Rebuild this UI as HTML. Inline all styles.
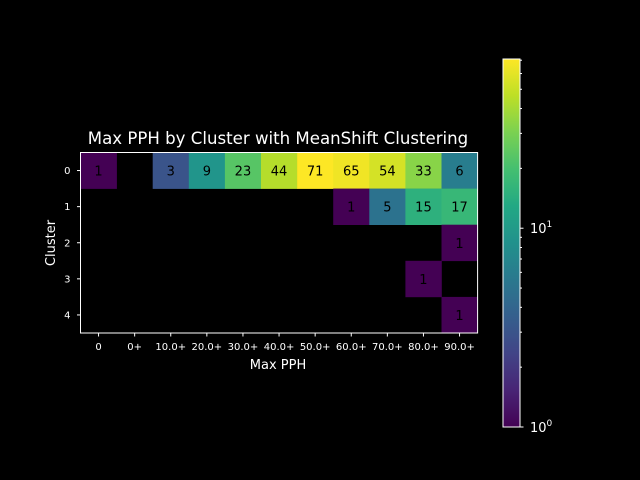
<!DOCTYPE html>
<html><head><meta charset="utf-8"><style>
html,body{margin:0;padding:0;background:#000;}
svg{display:block;font-family:"DejaVu Sans","Liberation Sans",sans-serif;}
</style></head><body>
<svg id="chart" width="640" height="480" viewBox="0 0 640 480">
<rect width="640" height="480" fill="#000"/>
<text x="278" y="144" fill="#fff" font-size="16.6" text-anchor="middle">Max PPH by Cluster with MeanShift Clustering</text>
<text x="278" y="369" fill="#fff" font-size="13" text-anchor="middle">Max PPH</text>
<text x="0" y="0" fill="#fff" font-size="13" text-anchor="middle" transform="translate(55,243) rotate(-90)">Cluster</text>
<g id="cells"></g><g id="axes"></g><g id="cbar"></g>
</svg>
<script>
const xCategories = ["0","0+","10.0+","20.0+","30.0+","40.0+","50.0+","60.0+","70.0+","80.0+","90.0+"];
const yCategories = ["0","1","2","3","4"];
const row0 = [1,null,3,9,23,44,71,65,54,33,6];
const row1 = [null,null,null,null,null,null,null,1,5,15,17];
const row2 = [null,null,null,null,null,null,null,null,null,null,1];
const row3 = [null,null,null,null,null,null,null,null,null,1,null];
const row4 = [null,null,null,null,null,null,null,null,null,null,1];
const rows = [row0,row1,row2,row3,row4];
const cbarMin = 1, cbarMax = 71;
const cbarMajorTicks = [1,10];
const cbarMinorTicks = [2,3,4,5,6,7,8,9,20,30,40,50,60,70];

const NS="http://www.w3.org/2000/svg";
const X0=80.5, Y0=152.5, CW=36.1, CH=36.1;
const xPos = i => X0 + i*CW;
const yPos = j => Y0 + j*CH;
const vir=["#440154","#482475","#414487","#355f8d","#2a788e","#21918c","#22a884","#44bf70","#7ad151","#bddf26","#fde725"];
function hex(h){return [1,3,5].map(i=>parseInt(h.substr(i,2),16));}
function cmap(t){t=Math.max(0,Math.min(1,t));const f=t*10,i=Math.min(9,Math.floor(f)),r=f-i;
 const a=hex(vir[i]),b=hex(vir[i+1]);return "rgb("+a.map((v,k)=>Math.round(v+(b[k]-v)*r)).join(",")+")";}
const norm = v => Math.log(v/cbarMin)/Math.log(cbarMax/cbarMin);
function mk(tag,attrs,parent,txt){const e=document.createElementNS(NS,tag);for(const k in attrs)e.setAttribute(k,attrs[k]);if(txt!==undefined)e.textContent=txt;parent.appendChild(e);return e;}

const cells=document.getElementById('cells');
rows.forEach((row,j)=>row.forEach((v,i)=>{
  if(v===null) return;
  const r=mk('rect',{x:xPos(i),y:yPos(j),width:CW+0.3,height:CH+0.3,fill:cmap(norm(v))},cells);
  
  
  const t=mk('text',{x:xPos(i)+CW/2,y:yPos(j)+CH/2+5,'font-size':13,'text-anchor':'middle',fill:'#000'},cells,String(v));
  
  
}));

const ax=document.getElementById('axes');
const frame=mk('rect',{x:X0,y:Y0,width:CW*11,height:CH*5,fill:'none',stroke:'#fff','stroke-width':1},ax);


xCategories.forEach((c,i)=>{
  const cx=xPos(i)+CW/2;
  mk('line',{x1:cx,x2:cx,y1:Y0+CH*5,y2:Y0+CH*5+3.5,stroke:'#fff'},ax);
  const t=mk('text',{x:cx,y:Y0+CH*5+17,'font-size':10,'text-anchor':'middle',fill:'#fff'},ax,c);
  
  
});
yCategories.forEach((c,j)=>{
  const cy=yPos(j)+CH/2;
  mk('line',{x1:X0-3.5,x2:X0,y1:cy,y2:cy,stroke:'#fff'},ax);
  const t=mk('text',{x:X0-10,y:cy+3.5,'font-size':10,'text-anchor':'end',fill:'#fff'},ax,c);
  
  
});

const cb=document.getElementById('cbar');
const CBX=503, CBW=17, CBT=59, CBB=427;
const cbY = v => CBB - norm(v)*(CBB-CBT);
const defs=mk('defs',{},cb);
const g=mk('linearGradient',{id:'vg',x1:0,y1:1,x2:0,y2:0},defs);
for(let k=0;k<=20;k++){mk('stop',{offset:k/20,'stop-color':cmap(k/20)},g);}
const bar=mk('rect',{x:CBX,y:CBT,width:CBW,height:CBB-CBT,fill:'url(#vg)',stroke:'#fff','stroke-width':1},cb);


cbarMinorTicks.forEach(v=>{const y=cbY(v);mk('line',{x1:CBX+CBW,x2:CBX+CBW+2,y1:y,y2:y,stroke:'#fff'},cb);});
cbarMajorTicks.forEach((v,k)=>{const y=cbY(v);
  mk('line',{x1:CBX+CBW,x2:CBX+CBW+3.5,y1:y,y2:y,stroke:'#fff'},cb);
  const t=mk('text',{x:CBX+CBW+10,y:y+5,'font-size':13,fill:'#fff'},cb);
  
  
  mk('tspan',{},t,'10');
  mk('tspan',{dy:-6,'font-size':9},t,String(Math.round(Math.log10(v))));
});
</script>
</body></html>
